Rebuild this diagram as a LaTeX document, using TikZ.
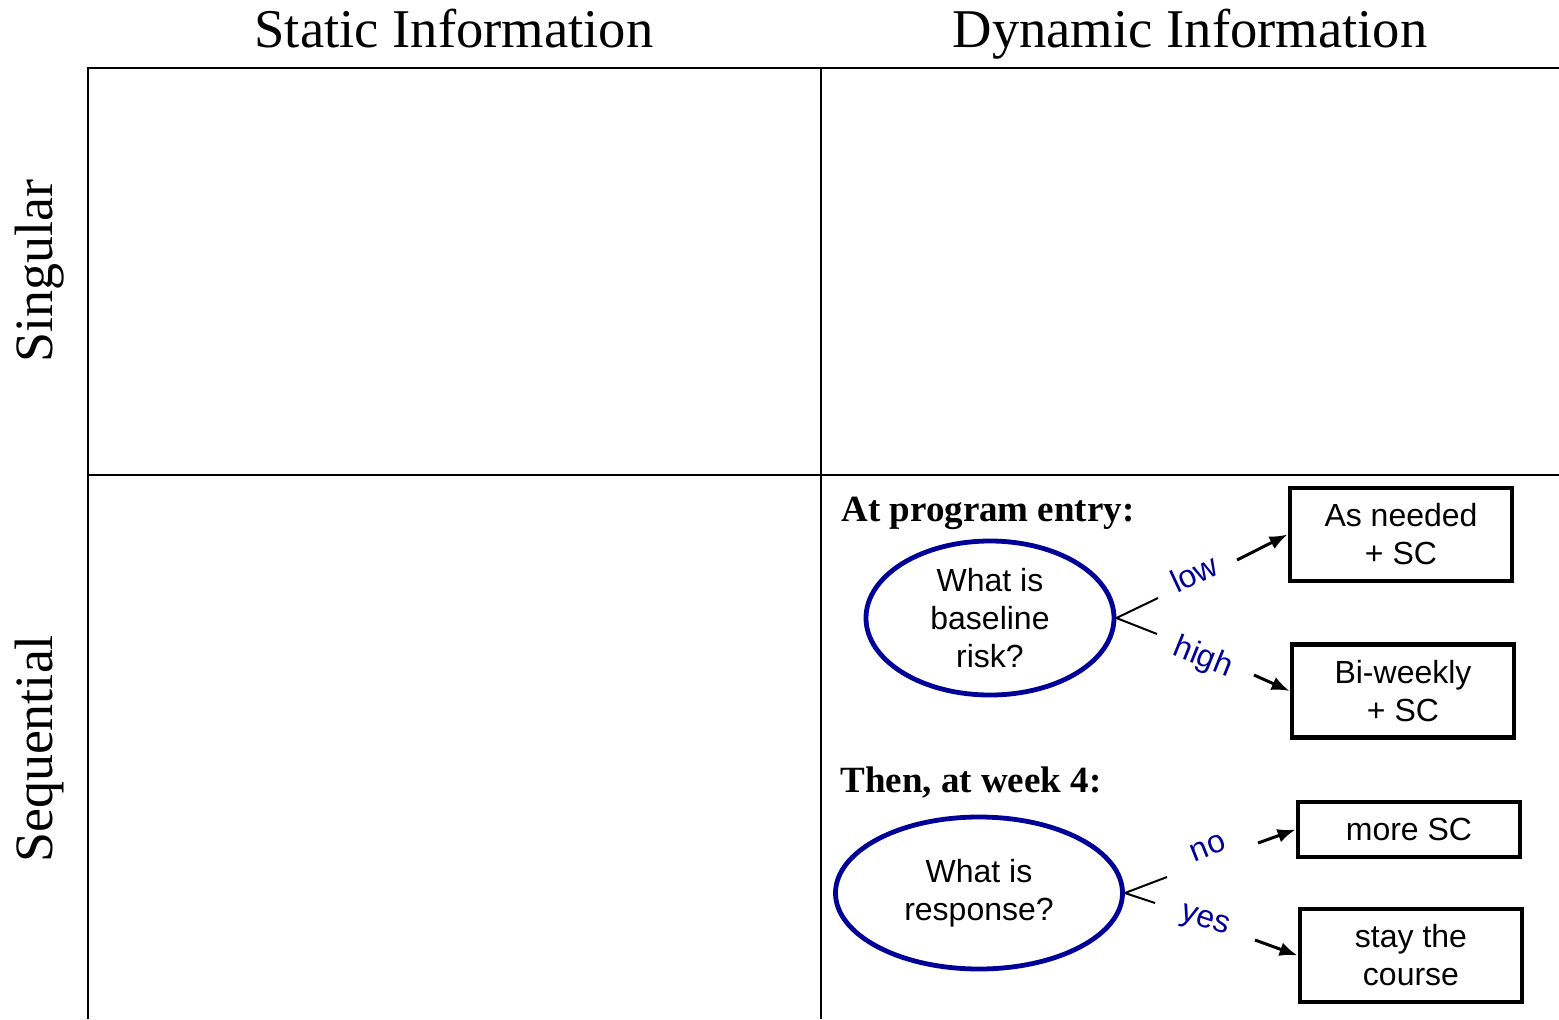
\documentclass[tikz,border=0pt]{standalone}
\usepackage{fontspec}
\setmainfont{Liberation Serif}
\setsansfont{Liberation Sans}
\usetikzlibrary{arrows.meta,positioning,shapes.geometric}
\definecolor{navy}{RGB}{0,0,153}
\tikzset{
    %Define standard arrow tip
    >={Latex[length=9pt,width=7pt]},
    %Define style for questions
    question/.style={
           ellipse,
           draw=navy, line width=2.4pt,
           inner sep=0pt,
           align=center,
           font=\sffamily\fontsize{16}{19}\selectfont},
    %Define style for boxes
    choice/.style={
           rectangle,
           draw=black, line width=2.4pt,
           minimum width=111pt,
           minimum height=46.5pt,
           inner sep=0pt,
           align=center,
           font=\sffamily\fontsize{16}{19}\selectfont},
    branch/.style={
           text=navy,
           inner sep=0pt,
           font=\sffamily\fontsize{16}{19}\selectfont},
    heading/.style={
           anchor=base,
           inner sep=0pt,
           font=\fontsize{27.3}{32}\selectfont},
    stage/.style={
           anchor=base west,
           inner sep=0pt,
           font=\bfseries\fontsize{18.5}{22}\selectfont},
    % Define arrow style
    pil/.style={
           ->,
           line width=1.5pt},
    fork/.style={
           line width=1pt}
}
\begin{document}
\begin{tikzpicture}[x=0.5pt,y=-0.5pt]
\useasboundingbox (0,0) rectangle (1559,1019);
 %grid
\draw[line width=1pt] (88,1019) -- (88,68) -- (1559,68);
\draw[line width=1pt] (821,68) -- (821,1019);
\draw[line width=1pt] (88,475) -- (1559,475);
\node[heading](h1) at (454,47) {Static Information};
\node[heading](h2) at (1190,47) {Dynamic Information};
\node[heading, rotate=90, font=\fontsize{27}{32}\selectfont](h3) at (52,271) {Singular};
\node[heading, rotate=90, font=\fontsize{27}{32}\selectfont](h4) at (52,749) {Sequential};
\node[stage](t1) at (841,521) {At program entry:};
\node[stage](t2) at (840,792) {Then, at week 4:};
 %nodes
\node[question, minimum width=124pt, minimum height=77pt](1) at (990,618) {What is\\baseline\\risk?};
\node[choice](2) at (1401,534.5) {As needed\\+ SC};
\node[choice](3) at (1403,691) {Bi-weekly\\+ SC};
\node[question, minimum width=143.5pt, minimum height=76pt](4) at (979,893) {What is\\response?};
\node[choice, minimum height=27.5pt](5) at (1409,829.5) {more SC};
\node[choice](6) at (1411,955.5) {stay the\\course};
\node[branch, rotate=25](7) at (1194,573) {low};
\node[branch, rotate=-22](8) at (1203,658) {high};
\node[branch, rotate=22](9) at (1208,848) {no};
\node[branch, rotate=-18](10) at (1205,922) {yes};
\coordinate (a1) at (1158,598);
\coordinate (a2) at (1157,634);
\coordinate (a3) at (1167,877);
\coordinate (a4) at (1155,903);
\coordinate (b1) at (1237,560);
\coordinate (b2) at (1254,675);
\coordinate (b3) at (1258,843);
\coordinate (b4) at (1255,940);
\path[fork]
    (1.east) edge (a1) edge (a2)
    (4.east) edge (a3) edge (a4);
\path[pil]
    (b1) edge (2.west)
    (b2) edge (3.west)
    (b3) edge (5.west)
    (b4) edge (6.west);
\end{tikzpicture}
\end{document}
